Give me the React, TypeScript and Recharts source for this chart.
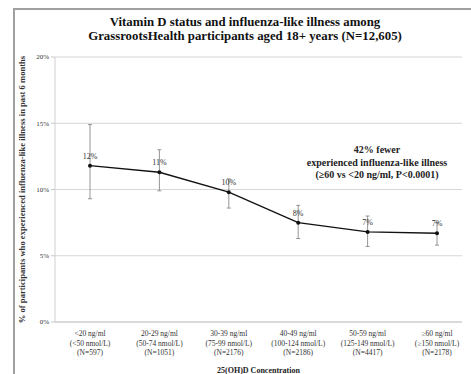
import { LineChart, Line, XAxis, YAxis, CartesianGrid, ErrorBar, LabelList } from 'recharts';

const ngRanges = ['<20 ng/ml', '20-29 ng/ml', '30-39 ng/ml', '40-49 ng/ml', '50-59 ng/ml', '≥60 ng/ml'];
const nmolRanges = ['(<50 nmol/L)', '(50-74 nmol/L)', '(75-99 nmol/L)', '(100-124 nmol/L)', '(125-149 nmol/L)', '(≥150 nmol/L)'];
const groupSizes = ['(N=597)', '(N=1051)', '(N=2176)', '(N=2186)', '(N=4417)', '(N=2178)'];
const illnessPct = [11.8, 11.3, 9.8, 7.5, 6.8, 6.7];
const lowerCI = [9.3, 9.9, 8.6, 6.3, 5.7, 5.8];
const upperCI = [14.9, 13.0, 10.8, 8.8, 8.0, 7.5];
const pctLabels = ['12%', '11%', '10%', '8%', '7%', '7%'];
const yTicks = [0, 5, 10, 15, 20];

const data = ngRanges.map((ng, i) => ({
  ng,
  nmol: nmolRanges[i],
  n: groupSizes[i],
  pct: illnessPct[i],
  err: [illnessPct[i] - lowerCI[i], upperCI[i] - illnessPct[i]],
  label: pctLabels[i],
}));

const FONT = '"Liberation Serif", "DejaVu Serif", serif';

const XTick = (props: any) => {
  const { x, y, index } = props;
  const d = data[index];
  if (!d) return null;
  return (
    <g transform={`translate(${x},${y})`}>
      <text textAnchor="middle" fontSize={7.5} fontFamily={FONT} fill="#333">
        <tspan x={0} y={6}>{d.ng}</tspan>
        <tspan x={0} y={15.5}>{d.nmol}</tspan>
        <tspan x={0} y={25}>{d.n}</tspan>
      </text>
    </g>
  );
};

// value label above each point
const PointLabel = (props: any) => {
  const { x, y, value } = props;
  return (
    <text x={x} y={y - 7} textAnchor="middle" fontSize={8} fontFamily={FONT} fill="#333">
      {value}
    </text>
  );
};

export default function App() {
  return (
    <div style={{ position: 'absolute', left: 0, top: 0, width: 471, height: 374, background: '#fff', overflow: 'hidden', fontFamily: FONT }}>
      <div style={{ position: 'absolute', left: 13, top: 8, width: 471, height: 374, borderLeft: '2px solid #a0a0a0', borderTop: '2px solid #a0a0a0' }} />
      <div style={{ position: 'absolute', left: 20, width: 450, top: 15, textAlign: 'center', fontWeight: 'bold', fontSize: 12.8, lineHeight: '14px', color: '#111' }}>
        Vitamin D status and influenza-like illness among
        <br />
        GrassrootsHealth participants aged 18+ years (N=12,605)
      </div>
      <div style={{ position: 'absolute', left: 277, width: 200, top: 144, textAlign: 'center', fontWeight: 'bold', fontSize: 10, lineHeight: '12.5px', color: '#222' }}>
        42% fewer
        <br />
        experienced influenza-like illness
        <br />
        (≥60 vs &lt;20 ng/ml, P&lt;0.0001)
      </div>
      <LineChart width={471} height={374} data={data} margin={{ top: 57, right: 9, left: 0, bottom: 0 }} style={{ position: 'absolute', left: 0, top: 0 }}>
        <CartesianGrid vertical={false} stroke="#d6d6d6" />
        <XAxis
          dataKey="ng"
          interval={0}
          height={52}
          padding={{ left: 35, right: 25 }}
          tick={<XTick />}
          tickLine={false}
          axisLine={{ stroke: '#c8c8c8' }}
          label={{ value: '25(OH)D Concentration', position: 'insideBottom', offset: 1, style: { fontFamily: FONT, fontSize: 8, fontWeight: 'bold', fill: '#222' } }}
        />
        <YAxis
          domain={[0, 20]}
          ticks={yTicks}
          width={55}
          tickFormatter={(v: number) => `${v}%`}
          tick={{ fontFamily: FONT, fontSize: 7, fill: '#333' }}
          tickLine={{ stroke: '#c8c8c8' }}
          tickSize={4}
          axisLine={{ stroke: '#d0d0d0' }}
          label={{ value: '% of participants who experienced influenza-like illness in past 6 months', angle: -90, position: 'center', dx: -6, style: { fontFamily: FONT, fontSize: 8.6, fontWeight: 'bold', fill: '#333', textAnchor: 'middle' } }}
        />
        <Line type="linear" dataKey="pct" stroke="#111" strokeWidth={1.4} dot={{ r: 2, fill: '#111', strokeWidth: 0 }} isAnimationActive={false}>
          <ErrorBar dataKey="err" direction="y" width={2} stroke="#8a8a8a" strokeWidth={0.9} />
          <LabelList dataKey="label" content={<PointLabel />} />
        </Line>
      </LineChart>
    </div>
  );
}
